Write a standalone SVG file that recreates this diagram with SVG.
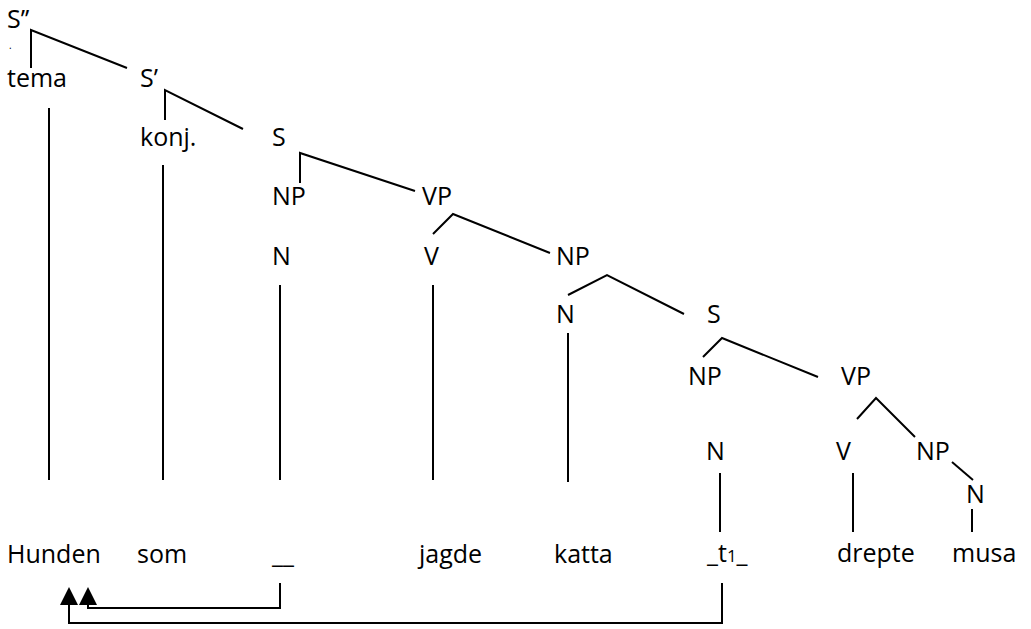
<svg xmlns="http://www.w3.org/2000/svg" width="1031" height="629" viewBox="0 0 1031 629">
  <style>
    text { font-family: "Open Sans", "Noto Sans", sans-serif; font-size: 25px; fill: #000; }
    .ln { stroke: #000; stroke-width: 2; fill: none; }
    .head { fill: #000; }
  </style>
  <rect width="1031" height="629" fill="#fff"/>

  <!-- category labels -->
  <g id="n-sbar2"><text x="7" y="28">S’’</text><text x="9" y="49" style="font-size:10px">.</text></g>
  <g id="n-tema"><text x="7" y="87">tema</text></g>
  <g id="n-sbar"><text x="140" y="87">S’</text></g>
  <g id="n-konj"><text x="140" y="146">konj.</text></g>
  <g id="n-s1"><text x="272" y="146">S</text></g>
  <g id="n-np1"><text x="272" y="205">NP</text></g>
  <g id="n-vp1"><text x="422" y="205">VP</text></g>
  <g id="n-n1"><text x="272" y="265">N</text></g>
  <g id="n-v1"><text x="424" y="265">V</text></g>
  <g id="n-np2"><text x="556" y="265">NP</text></g>
  <g id="n-n2"><text x="556" y="323">N</text></g>
  <g id="n-s2"><text x="707" y="323">S</text></g>
  <g id="n-np3"><text x="688" y="385">NP</text></g>
  <g id="n-vp2"><text x="841" y="385">VP</text></g>
  <g id="n-n3"><text x="706" y="460">N</text></g>
  <g id="n-v2"><text x="836" y="460">V</text></g>
  <g id="n-np4"><text x="916" y="460">NP</text></g>
  <g id="n-n4"><text x="966" y="503">N</text></g>

  <!-- terminal words -->
  <g id="w-hunden"><text x="7" y="563">Hunden</text></g>
  <g id="w-som"><text x="137" y="563">som</text></g>
  <g id="w-gap"><text x="272" y="563">__</text></g>
  <g id="w-jagde"><text x="419" y="563">jagde</text></g>
  <g id="w-katta"><text x="554" y="563">katta</text></g>
  <g id="w-trace"><text x="707" y="562">_t<tspan style="font-size:17px">1</tspan>_</text></g>
  <g id="w-drepte"><text x="837" y="562">drepte</text></g>
  <g id="w-musa"><text x="952" y="562">musa</text></g>

  <!-- branches and movement arrows -->
  <g id="connectors">
    <path class="ln" d="M31,68 V30 L127,68"/>
    <path class="ln" d="M49,108 V480"/>
    <path class="ln" d="M165,120 V90 L243,129"/>
    <path class="ln" d="M163,165 V480"/>
    <path class="ln" d="M300,183 V153 L415,191"/>
    <path class="ln" d="M280,285 V480"/>
    <path class="ln" d="M433,234 L453,214 L550,253"/>
    <path class="ln" d="M433,285 V480"/>
    <path class="ln" d="M568,295 L607,275 L684,314"/>
    <path class="ln" d="M568,333 V482"/>
    <path class="ln" d="M703,357 L722,338 L818,377"/>
    <path class="ln" d="M857,419 L876,398 L915,437"/>
    <path class="ln" d="M952,462 L973,480"/>
    <path class="ln" d="M720,473 V532"/>
    <path class="ln" d="M853,473 V532"/>
    <path class="ln" d="M972,509 V532"/>
    <path class="ln" d="M280,583 V608 H88 V604"/>
    <polygon class="head" points="88,587 97,605 79,605"/>
    <path class="ln" d="M722,583 V623 H69 V604"/>
    <polygon class="head" points="69,587 78,605 60,605"/>
  </g>
</svg>
